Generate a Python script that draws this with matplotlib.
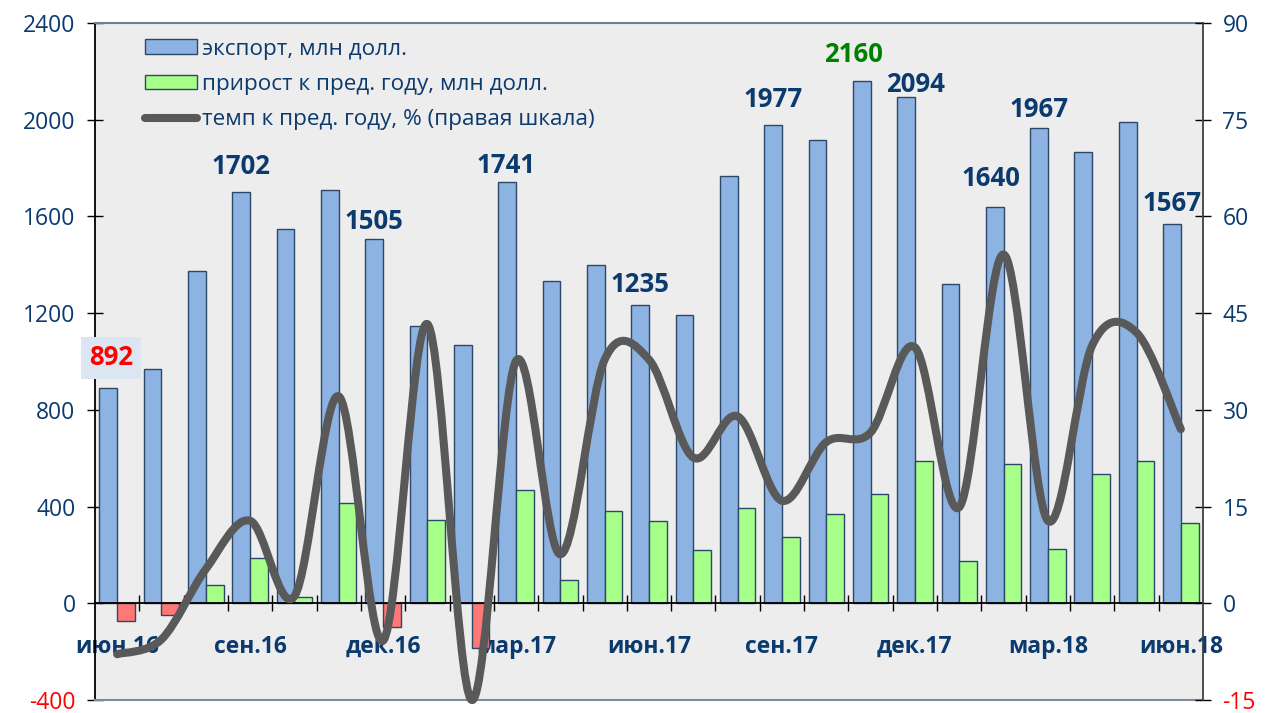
import numpy as np
import matplotlib
matplotlib.use("Agg")
import matplotlib.pyplot as plt
from matplotlib.path import Path
from matplotlib.patches import PathPatch, Patch
from matplotlib.lines import Line2D

plt.rcParams['font.family'] = ['Open Sans', 'DejaVu Sans']
plt.rcParams['axes.unicode_minus'] = False

# данные: июн.16 - июн.18
months = ["июн.16", "июл.16", "авг.16", "сен.16", "окт.16", "ноя.16", "дек.16",
          "янв.17", "фев.17", "мар.17", "апр.17", "май.17", "июн.17", "июл.17",
          "авг.17", "сен.17", "окт.17", "ноя.17", "дек.17", "янв.18", "фев.18",
          "мар.18", "апр.18", "май.18", "июн.18"]
export = [892, 970, 1373, 1702, 1547, 1708, 1505, 1145, 1067, 1741, 1332, 1398,
          1235, 1191, 1766, 1977, 1915, 2160, 2094, 1319, 1640, 1967, 1865, 1989, 1567]
growth = [-73, -50, 76, 187, 25, 414, -100, 345, -186, 469, 95, 382, 342, 220,
          393, 274, 368, 451, 589, 174, 578, 226, 533, 589, 332]
rate = [-7.9, -5.6, 5.3, 12.8, 1.1, 32.1, -5.8, 43.3, -15.0, 37.6, 7.6, 37.8,
        37.8, 22.6, 29.0, 15.9, 25.0, 26.5, 39.7, 14.9, 54.1, 12.8, 40.0, 42.0, 27.0]
labeled = [3, 6, 9, 12, 15, 17, 18, 20, 21, 24]   # подписанные столбцы
max_idx = 17
first_idx = 0
tick_months = [0, 3, 6, 9, 12, 15, 18, 21, 24]

# сдвиги подписей (пт), как в исходнике
label_shift = {3: (0, 13), 6: (0, 7.5), 9: (-1, 7), 12: (0, 9.3), 15: (0, 13.3),
               17: (-6, 13.8), 18: (6.5, 3.7), 20: (-3, 15), 21: (0, 7.8),
               24: (0, 9.7)}

navy = "#0b3a6e"
blue = "#8db3e2"
green = "#a6ff88"
red_bar = "#ff7777"
edge = "#2c4866"
line_col = "#595959"

x = np.arange(len(months))

fig = plt.figure(figsize=(12.72, 7.13), dpi=100)
ax = fig.add_axes([95/1272, 13/713, 1108/1272, 677/713])
ax.set_facecolor("#ededed")

ax.bar(x - 0.2, export, width=0.4, color=blue, edgecolor=edge, linewidth=1.0, zorder=2)
gcols = [green if g >= 0 else red_bar for g in growth]
ax.bar(x + 0.2, growth, width=0.4, color=gcols, edgecolor=edge, linewidth=1.0, zorder=2)

ax.set_xlim(-0.5, len(months) - 0.5)
ax.set_ylim(-400, 2400)
ax.set_yticks(range(-400, 2401, 400))
ax.tick_params(axis="y", direction="inout", length=12, width=1, labelsize=16.5,
               labelcolor=navy, pad=8)
for lab in ax.get_yticklabels():
    if lab.get_text().startswith(("-", "−")):
        lab.set_color("red")

# ось X на нуле
ax.spines["bottom"].set_position(("data", 0))
ax.spines["bottom"].set_color("black")
ax.spines["bottom"].set_linewidth(1.3)
ax.set_xticks(np.arange(len(months) - 1) + 0.5)
ax.set_xticklabels([])
ax.tick_params(axis="x", direction="inout", length=11, width=1)
ax.set_xticks(tick_months, minor=True)
ax.set_xticklabels([months[i] for i in tick_months], minor=True)
ax.tick_params(axis="x", which="minor", length=0, pad=23, labelsize=16.5,
               labelcolor=navy)
for lab in ax.get_xticklabels(minor=True):
    lab.set_fontweight("bold")
ax.axhline(-400, color="#7f8b99", lw=1.5, clip_on=False, zorder=3)

ax.spines["left"].set_color("black")
ax.spines["left"].set_linewidth(1.3)
ax.spines["top"].set_color("#6a7f99")
ax.spines["top"].set_linewidth(1.5)
ax.spines["right"].set_visible(False)

# подписи значений
for i in labeled:
    col = "green" if i == max_idx else navy
    ax.annotate(str(export[i]), (x[i] - 0.2, export[i]), xytext=label_shift[i],
                textcoords="offset points", ha="center", va="baseline",
                fontsize=18.5, fontweight="bold", color=col, zorder=4)
ax.annotate(str(export[first_idx]), (x[first_idx] - 0.2, export[first_idx]),
            xytext=(2, 16), textcoords="offset points", ha="center", va="baseline",
            fontsize=18.5, fontweight="bold", color="red", zorder=4,
            bbox=dict(boxstyle="square,pad=0.3", fc="#dce6f2", ec="none"))

# правая шкала: темп
ax2 = ax.twinx()
ax2.set_ylim(-15, 90)
ax2.set_yticks(range(-15, 91, 15))
ax2.tick_params(axis="y", direction="inout", length=12, width=1, labelsize=16.5,
                labelcolor=navy, pad=8)
for lab in ax2.get_yticklabels():
    if lab.get_text().startswith(("-", "−")):
        lab.set_color("red")
for s in ["top", "bottom", "left"]:
    ax2.spines[s].set_visible(False)
ax2.spines["right"].set_color("#404040")
ax2.spines["right"].set_linewidth(1.3)

# сглаженная линия (кубические кривые Безье)
pts = np.column_stack([x, rate]).astype(float)
verts = [tuple(pts[0])]
codes = [Path.MOVETO]
n = len(pts)
for i in range(n - 1):
    p0 = pts[max(i - 1, 0)]
    p1 = pts[i]
    p2 = pts[i + 1]
    p3 = pts[min(i + 2, n - 1)]
    c1 = p1 + (p2 - p0) / 6.0
    c2 = p2 - (p3 - p1) / 6.0
    verts += [tuple(c1), tuple(c2), tuple(p2)]
    codes += [Path.CURVE4] * 3
ax2.add_patch(PathPatch(Path(verts, codes), fill=False, edgecolor=line_col,
                        lw=5.8, capstyle="round", joinstyle="round", zorder=5,
                        clip_on=False))

handles = [Patch(facecolor=blue, edgecolor=edge, lw=1.0),
           Patch(facecolor=green, edgecolor=edge, lw=1.0),
           Line2D([], [], color=line_col, lw=5.8, solid_capstyle="round")]
labels = ["экспорт, млн долл.", "прирост к пред. году, млн долл.",
          "темп к пред. году, % (правая шкала)"]
ax2.legend(handles, labels, loc="upper left", bbox_to_anchor=(0.027, 1.007),
           frameon=False, fontsize=16.2, labelcolor=navy, handlelength=2.3,
           handleheight=0.62, handletextpad=0.22, labelspacing=0.64)

fig.savefig("out.png", dpi=100)
